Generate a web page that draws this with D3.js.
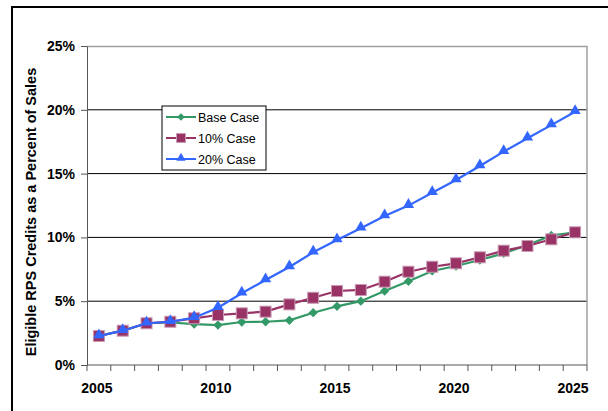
<!DOCTYPE html>
<html>
<head>
<meta charset="utf-8">
<script src="https://cdn.jsdelivr.net/npm/d3@7"></script>
<style>
  body { margin: 0; background: #fff; }
  text { font-family: "Liberation Sans", Arial, sans-serif; }
</style>
</head>
<body>
<div id="chart"></div>
<script>
// data
const years = d3.range(2005, 2026);
const yearLabels = [2005, 2010, 2015, 2020, 2025];
const yTicks = [0, 5, 10, 15, 20, 25];
const baseCase = [2.27, 2.69, 3.27, 3.33, 3.21, 3.13, 3.37, 3.39, 3.5, 4.1, 4.6, 5.0, 5.8, 6.56, 7.37, 7.76, 8.23, 8.75, 9.4, 10.15, 10.4];
const case10 = [2.27, 2.69, 3.27, 3.39, 3.66, 3.92, 4.05, 4.18, 4.75, 5.27, 5.8, 5.88, 6.53, 7.31, 7.7, 7.97, 8.44, 8.96, 9.33, 9.85, 10.4];
const case20 = [2.27, 2.69, 3.27, 3.39, 3.71, 4.49, 5.62, 6.66, 7.68, 8.83, 9.8, 10.71, 11.68, 12.49, 13.5, 14.5, 15.6, 16.72, 17.77, 18.8, 19.85];

const W = 608, H = 411;
const margin = { top: 46, right: 21, bottom: 46, left: 87 };
const iw = W - margin.left - margin.right;
const ih = H - margin.top - margin.bottom;

const svg = d3.select("#chart").append("svg")
    .attr("width", W)
    .attr("height", H);

// outer frame (cut off at right and bottom)
svg.append("rect")
    .attr("x", 12).attr("y", 7)
    .attr("width", W + 20).attr("height", H + 20)
    .attr("fill", "none")
    .attr("stroke", "#000")
    .attr("stroke-width", 2);

const g = svg.append("g").attr("transform", `translate(${margin.left},${margin.top})`);

const x = d3.scaleBand().domain(years).range([0, iw]);
const y = d3.scaleLinear().domain([0, 25]).range([ih, 0]);

// gridlines
g.selectAll(".grid")
    .data(yTicks.filter(d => d > 0 && d < 25))
    .enter().append("line")
    .attr("x1", 0).attr("x2", iw)
    .attr("y1", d => y(d)).attr("y2", d => y(d))
    .attr("stroke", "#000")
    .attr("stroke-width", 1);

// plot border top/right (gray)
g.append("path")
    .attr("d", `M0,0.5H${iw}V${ih}`)
    .attr("fill", "none")
    .attr("stroke", "#a0a0a0")
    .attr("stroke-width", 1.5);

// y axis
const yAxis = g.append("g")
    .call(d3.axisLeft(y).tickValues(yTicks).tickFormat(d => d + "%").tickSize(6).tickSizeOuter(0));
yAxis.select(".domain").attr("stroke", "#555");
yAxis.selectAll(".tick line").attr("stroke", "#555");
yAxis.selectAll("text")
    .attr("x", -12)
    .style("font-size", "14px")
    .style("font-weight", "bold")
    .attr("fill", "#000");

// x axis: ticks between categories
const xAxis = g.append("g").attr("transform", `translate(0,${ih})`);
xAxis.append("line")
    .attr("x1", 0).attr("x2", iw)
    .attr("stroke", "#555");
xAxis.selectAll(".xt")
    .data(years.concat([null]))
    .enter().append("line")
    .attr("x1", (d, i) => i * x.step()).attr("x2", (d, i) => i * x.step())
    .attr("y1", 0).attr("y2", 6)
    .attr("stroke", "#555");
xAxis.selectAll(".xl")
    .data(yearLabels)
    .enter().append("text")
    .attr("x", d => x(d) + x.bandwidth() / 2 - 2)
    .attr("y", 28)
    .attr("text-anchor", "middle")
    .style("font-size", "14px")
    .style("font-weight", "bold")
    .text(d => d);

// y axis title
svg.append("text")
    .attr("transform", `translate(36,212) rotate(-90)`)
    .attr("text-anchor", "middle")
    .style("font-size", "14.5px")
    .style("font-weight", "bold")
    .text("Eligible RPS Credits as a Percent of Sales");

const series = [
  { name: "Base Case", values: baseCase, color: "#339966", marker: "diamond" },
  { name: "10% Case", values: case10, color: "#993366", marker: "square" },
  { name: "20% Case", values: case20, color: "#3366ff", marker: "triangle" }
];

const line = d3.line()
    .x((d, i) => x(years[i]) + x.bandwidth() / 2)
    .y(d => y(d));

function drawMarker(sel, s, big) {
  if (s.marker === "square") {
    const sz = big ? 11 : 9;
    sel.append("rect")
      .attr("x", -sz / 2).attr("y", -sz / 2)
      .attr("width", sz).attr("height", sz)
      .attr("fill", s.color)
      .attr("stroke", "#c99bb4")
      .attr("stroke-width", 1);
  } else if (s.marker === "diamond") {
    sel.append("path")
      .attr("d", d3.symbol(d3.symbolDiamond2, big ? 55 : 36)())
      .attr("fill", s.color);
  } else {
    sel.append("path")
      .attr("d", d3.symbol(d3.symbolTriangle, big ? 55 : 36)())
      .attr("transform", "translate(0,-1)")
      .attr("fill", s.color);
  }
}

series.forEach(s => {
  g.append("path")
    .datum(s.values)
    .attr("d", line)
    .attr("fill", "none")
    .attr("stroke", s.color)
    .attr("stroke-width", 2.2);
  g.selectAll(null)
    .data(s.values)
    .enter().append("g")
    .attr("transform", (d, i) => `translate(${x(years[i]) + x.bandwidth() / 2},${y(d)})`)
    .each(function() { drawMarker(d3.select(this), s, true); });
});

// legend
const lg = svg.append("g").attr("transform", "translate(162,106)");
lg.append("rect")
    .attr("width", 104).attr("height", 64)
    .attr("fill", "#fff")
    .attr("stroke", "#000")
    .attr("stroke-width", 1);
series.forEach((s, i) => {
  const row = lg.append("g").attr("transform", `translate(0,${11 + i * 21})`);
  row.append("line")
    .attr("x1", 4).attr("x2", 34)
    .attr("stroke", s.color)
    .attr("stroke-width", 2);
  const m = row.append("g").attr("transform", "translate(19,0)");
  drawMarker(m, s, false);
  row.append("text")
    .attr("x", 36).attr("y", 4.5)
    .style("font-size", "12.5px")
    .text(s.name);
});
</script>
</body>
</html>
